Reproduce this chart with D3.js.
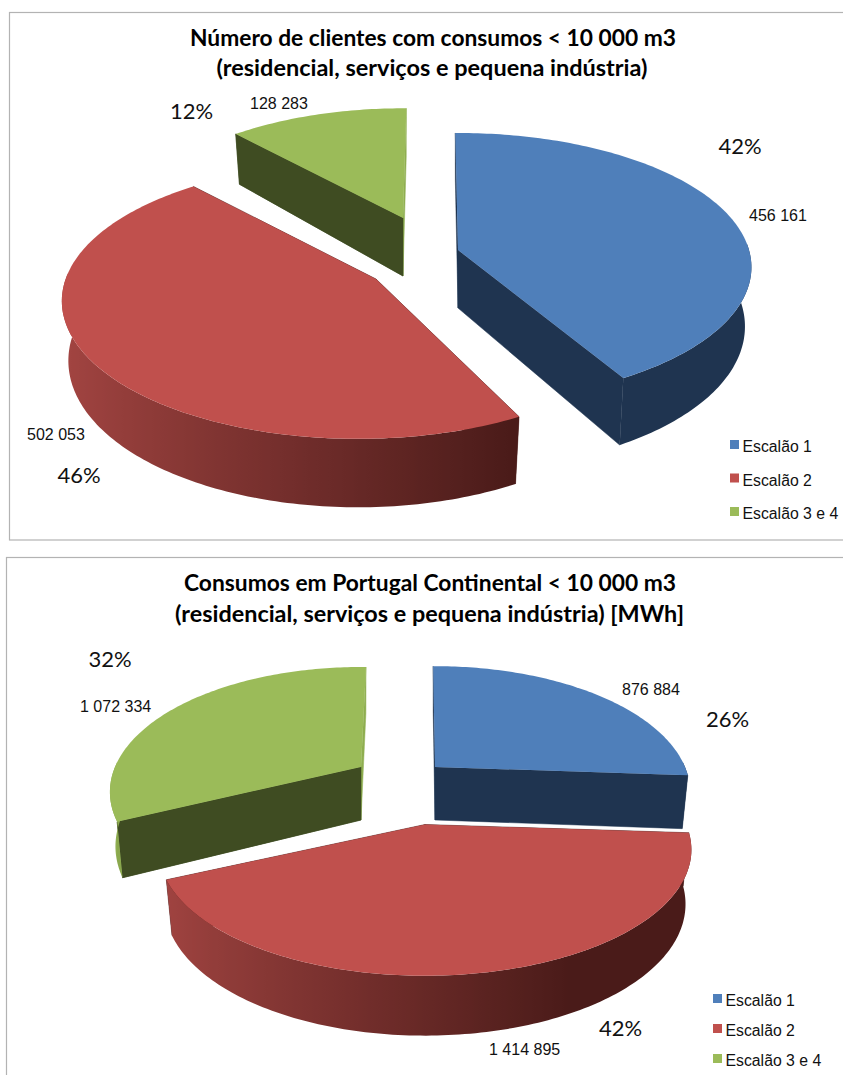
<!DOCTYPE html>
<html>
<head>
<meta charset="utf-8">
<script src="https://cdn.jsdelivr.net/npm/d3@7"></script>
<style>
  html, body { margin: 0; padding: 0; background: #fff; }
  svg { display: block; }
</style>
</head>
<body>
<svg id="chart" width="843" height="1075"></svg>
<script>
const categories = ['Escalão 1', 'Escalão 2', 'Escalão 3 e 4'];
const clientes = [456161, 502053, 128283];
const consumos = [876884, 1414895, 1072334];
const titleClientes = ['Número de clientes com consumos < 10 000 m3', '(residencial, serviços e pequena indústria)'];
const titleConsumos = ['Consumos em Portugal Continental < 10 000 m3', '(residencial, serviços e pequena indústria) [MWh]'];

const topColors = ['#4f7fba', '#c0504d', '#9bbb59'];
const darkColors = ['#1f3450', '#4a1b19', '#3f4c22'];
const lightColors = ['#3d6596', '#a64643', '#8fae50'];

// posicoes de cada grafico (centro, raios e perspetiva de cada fatia, etiquetas, legenda)
const layoutClientes = {
  frame: [9.5, 12.5, 850, 527.5],
  slices: [
    { c: [458, 250], r: 291, ry: 132, k: 0.128, skew: [-0.6, -1.5] },
    { c: [358, 278], r: 292, ry: 134, k: 0.167, skew: [0.8, 3], apex: [18, 1] },
    { c: [403, 218], r: 278, ry: 128, k: 0.167, skew: [0, 0.8] }
  ],
  order: [2, 0, 1],
  depth: 58, depthGrow: 0.18,
  title: [{ x: 433, y: 46, w: 486 }, { x: 432, y: 76, w: 431 }],
  pct: [[740, 153.5], [79, 483], [191.5, 119]],
  val: [[749, 221], [27, 440], [250, 108.5]],
  legend: { x: 730, y: [440, 473.5, 507] }
};
const layoutConsumos = {
  frame: [6.5, 557.5, 850, 530],
  slices: [
    { c: [435, 767], r: 250, ry: 121, k: 0.2, skew: [-0.5, 0] },
    { c: [425, 824.5], r: 261, ry: 121, k: 0.2, skew: [0, 0] },
    { c: [361, 767], r: 246, ry: 120, k: 0.2, skew: [0, 1.4] }
  ],
  order: [2, 0, 1],
  depth: 53, depthGrow: 0.13,
  title: [{ x: 430, y: 591, w: 492 }, { x: 429.5, y: 622, w: 509 }],
  pct: [[727.5, 727], [620.5, 1035.5], [110, 667]],
  val: [[622, 695], [489, 1055], [80, 712]],
  legend: { x: 713, y: [994, 1024, 1054] }
};

const svg = d3.select('#chart');
const defs = svg.append('defs');
const pie = d3.pie().sort(null);
const fmtValue = d3.formatLocale({ thousands: ' ', grouping: [3], decimal: ',', currency: ['', ''] }).format(',d');
const fmtPct = d3.format('.0%');
const shade = d3.scaleLinear().domain([0.45, -1]).range([0, 1]).clamp(true);
const poly = d3.line();
const DEG = Math.PI / 180;
let gradId = 0;

function drawChart(values, titleLines, lay) {
  const g = svg.append('g');

  g.append('rect')
    .attr('x', lay.frame[0]).attr('y', lay.frame[1])
    .attr('width', lay.frame[2]).attr('height', lay.frame[3])
    .attr('fill', '#fff').attr('stroke', '#b3b3b3').attr('stroke-width', 1.2);

  const arcs = pie(values);
  const total = d3.sum(values);

  lay.order.forEach(i => {
    const arc = arcs[i];
    const sl = lay.slices[i];
    const a0 = arc.startAngle + sl.skew[0] * DEG;
    const a1 = arc.endAngle + sl.skew[1] * DEG;

    // z = 0 topo, z = 1 base
    function project(a, rad, z) {
      const u = Math.sin(a) * rad, v = -Math.cos(a) * rad;
      const s = 1 / (1 - sl.k * v);
      const squeeze = 1 - 0.022 * z;
      const off = rad === 0 && sl.apex ? sl.apex : [0, 0];
      return [
        sl.c[0] + off[0] + sl.r * u * s * squeeze,
        sl.c[1] + off[1] + sl.ry * v * s + z * lay.depth * (1 + lay.depthGrow * v)
      ];
    }

    const angles = d3.range(a0, a1, DEG).concat([a1]);
    const slice = g.append('g');

    // paredes de corte (a que fecha nas 12 horas fica clara)
    [a0, a1].forEach(a => {
      const wallColor = a === a1 && Math.cos(a) > 0.99 ? lightColors[i] : darkColors[i];
      slice.append('path')
        .attr('d', poly([project(a, 0, 0), project(a, 1, 0), project(a, 1, 1), project(a, 0, 1)]) + 'Z')
        .attr('fill', wallColor)
        .attr('stroke', wallColor).attr('stroke-width', 0.5);
    });
    // a parede da frente da fatia verde volta a tapar a clara
    if (Math.cos(a1) > 0.99) {
      slice.append('path')
        .attr('d', poly([project(a0, 0, 0), project(a0, 1, 0), project(a0, 1, 1), project(a0, 0, 1)]) + 'Z')
        .attr('fill', darkColors[i])
        .attr('stroke', darkColors[i]).attr('stroke-width', 0.5);
    }

    // parede exterior com gradiente em x
    const front = angles.filter(a => -Math.cos(a) >= -0.05);
    if (front.length > 1) {
      const color = d3.interpolateRgb(darkColors[i], lightColors[i]);
      const samples = front.map(a => ({ x: project(a, 1, 0)[0], c: color(shade(Math.sin(a))) }))
        .sort((p, q) => p.x - q.x);
      const x0 = samples[0].x, x1 = samples[samples.length - 1].x;
      const id = 'wall' + (gradId++);
      defs.append('linearGradient')
        .attr('id', id)
        .attr('gradientUnits', 'userSpaceOnUse')
        .attr('x1', x0).attr('x2', x1).attr('y1', 0).attr('y2', 0)
        .selectAll('stop').data(samples).join('stop')
        .attr('offset', d => (d.x - x0) / (x1 - x0))
        .attr('stop-color', d => d.c);
      const wall = front.map(a => project(a, 1, 0)).concat(front.slice().reverse().map(a => project(a, 1, 1)));
      slice.append('path')
        .attr('d', poly(wall) + 'Z')
        .attr('fill', 'url(#' + id + ')');
    }

    // topo
    const rim = angles.map(a => project(a, 1, 0));
    slice.append('path')
      .attr('d', poly([project(a0, 0, 0)].concat(rim)) + 'Z')
      .attr('fill', topColors[i]);
  });

  // titulo
  titleLines.forEach((t, i) => {
    g.append('text')
      .attr('x', lay.title[i].x).attr('y', lay.title[i].y)
      .attr('text-anchor', 'middle')
      .attr('textLength', lay.title[i].w).attr('lengthAdjust', 'spacingAndGlyphs')
      .style('font', 'bold 22.5px Lato')
      .attr('fill', '#000')
      .text(t);
  });

  // etiquetas
  values.forEach((v, i) => {
    g.append('text')
      .attr('x', lay.pct[i][0]).attr('y', lay.pct[i][1])
      .attr('text-anchor', 'middle')
      .style('font', '22px Lato')
      .attr('fill', '#111')
      .text(fmtPct(v / total));
    g.append('text')
      .attr('x', lay.val[i][0]).attr('y', lay.val[i][1])
      .style('font', '16px "Liberation Sans"')
      .attr('fill', '#111')
      .text(fmtValue(v));
  });

  // legenda
  categories.forEach((name, i) => {
    g.append('rect')
      .attr('x', lay.legend.x).attr('y', lay.legend.y[i])
      .attr('width', 9).attr('height', 9)
      .attr('fill', topColors[i]);
    g.append('text')
      .attr('x', lay.legend.x + 12.5).attr('y', lay.legend.y[i] + 12)
      .style('font', '15.8px "Liberation Sans"')
      .attr('fill', '#111')
      .text(name);
  });
}

drawChart(clientes, titleClientes, layoutClientes);
drawChart(consumos, titleConsumos, layoutConsumos);
</script>
</body>
</html>
